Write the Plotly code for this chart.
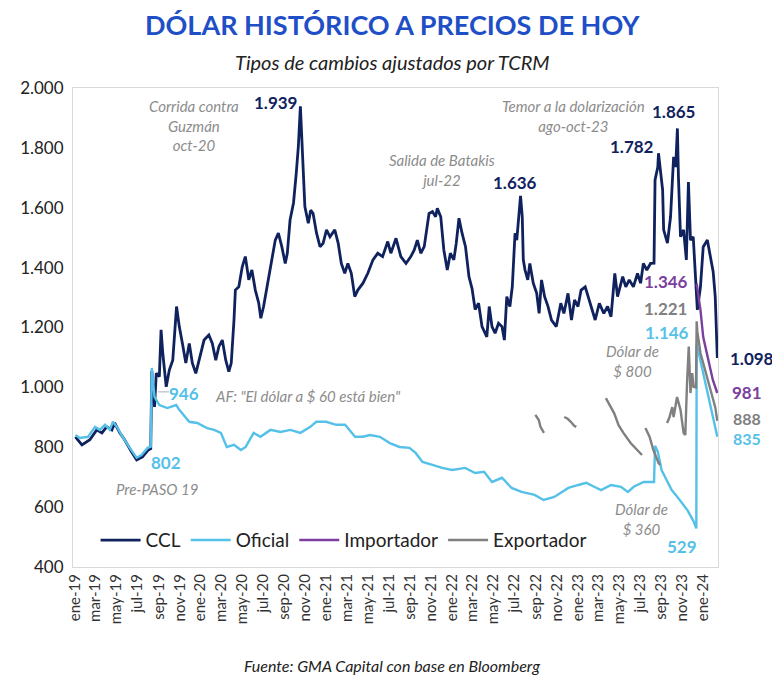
import plotly.graph_objects as go

# ---------------- DATA ----------------
ccl_dates = ["2019-01-02","2019-01-21","2019-02-13","2019-03-05","2019-03-20","2019-04-03","2019-04-18","2019-04-26",
"2019-05-11","2019-05-25","2019-06-14","2019-06-29","2019-07-16","2019-08-02","2019-08-09","2019-08-12",
"2019-08-20","2019-08-25","2019-09-03","2019-09-08","2019-09-13","2019-09-23","2019-10-02","2019-10-12","2019-10-23",
"2019-10-31","2019-11-09","2019-11-19","2019-11-29","2019-12-08","2019-12-18","2020-01-02","2020-01-11","2020-01-25",
"2020-02-04","2020-02-14","2020-02-23","2020-03-04","2020-03-14","2020-03-23","2020-03-30","2020-04-07","2020-04-11",
"2020-04-21","2020-05-01","2020-05-10","2020-05-20","2020-05-29","2020-06-08","2020-06-18","2020-06-24","2020-07-02",
"2020-07-12","2020-07-21","2020-08-05","2020-08-14","2020-08-24","2020-09-03","2020-09-09","2020-09-17","2020-09-27",
"2020-10-05","2020-10-11","2020-10-17","2020-10-26","2020-10-30","2020-11-09","2020-11-16","2020-11-23","2020-12-03",
"2020-12-13","2020-12-22","2021-01-01","2021-01-11","2021-01-25","2021-02-04","2021-02-13","2021-02-23","2021-03-04",
"2021-03-14","2021-03-24","2021-04-02","2021-04-17","2021-05-01","2021-05-16","2021-05-30","2021-06-13","2021-06-28",
"2021-07-07","2021-07-22","2021-08-05","2021-08-20","2021-09-03","2021-09-13","2021-09-22","2021-10-02","2021-10-12",
"2021-10-26","2021-11-05","2021-11-14","2021-11-19","2021-11-29","2021-12-08","2021-12-18","2021-12-27","2022-01-06",
"2022-01-13","2022-01-21","2022-01-30","2022-02-09","2022-02-19","2022-02-28","2022-03-09","2022-03-19","2022-03-29",
"2022-04-12","2022-04-19","2022-04-27","2022-05-06","2022-05-16","2022-05-26","2022-06-02","2022-06-09","2022-06-18",
"2022-06-25","2022-07-03","2022-07-08","2022-07-14","2022-07-19","2022-07-24","2022-07-27","2022-08-01","2022-08-09",
"2022-08-15","2022-08-25","2022-09-04","2022-09-11","2022-09-18","2022-09-27","2022-10-07","2022-10-17","2022-10-31",
"2022-11-13","2022-11-22","2022-12-04","2022-12-14","2022-12-23","2023-01-02","2023-01-11","2023-01-23","2023-02-04",
"2023-02-21","2023-03-05","2023-03-18","2023-03-29","2023-04-08","2023-04-19","2023-04-27","2023-05-12","2023-05-21",
"2023-05-31","2023-06-12","2023-06-24","2023-07-03","2023-07-11","2023-07-21","2023-08-01","2023-08-11","2023-08-14",
"2023-08-22","2023-08-24","2023-09-05","2023-09-08","2023-09-19","2023-09-28","2023-10-07","2023-10-13","2023-10-18",
"2023-10-21","2023-10-27","2023-11-05","2023-11-13","2023-11-19","2023-11-25","2023-12-03","2023-12-15","2023-12-24",
"2024-01-01","2024-01-13","2024-01-21","2024-01-30","2024-02-05","2024-02-11"]
ccl_values = [835,808,825,858,848,868,858,881,
848,825,785,758,768,791,795,1055,
935,1047,1036,1192,1114,1002,1058,1091,1270,
1203,1147,1081,1147,1081,1047,1114,1158,1175,
1147,1091,1136,1158,1091,1053,1081,1225,1325,
1336,1403,1437,1359,1392,1325,1281,1231,1270,
1336,1381,1492,1515,1470,1414,1448,1559,1616,
1716,1803,1939,1670,1604,1548,1592,1581,1515,
1470,1481,1526,1503,1526,1481,1414,1381,1414,
1381,1303,1325,1348,1381,1426,1448,1437,1487,
1448,1498,1437,1414,1437,1459,1492,1448,1470,
1581,1587,1570,1598,1570,1459,1392,1448,1426,
1481,1565,1515,1470,1370,1330,1260,1281,1203,
1169,1270,1203,1181,1214,1203,1158,1303,1270,
1336,1515,1492,1570,1640,1570,1426,1392,1359,
1414,1348,1314,1247,1359,1303,1270,1225,1203,
1281,1247,1314,1225,1292,1270,1325,1336,1292,
1225,1281,1247,1270,1236,1381,1303,1370,1336,
1359,1336,1381,1348,1414,1392,1414,1415,1693,
1736,1782,1660,1526,1482,1569,1770,1736,1865,
1703,1503,1526,1426,1686,1492,1503,1259,1336,
1469,1492,1436,1386,1302,1098]

oficial_dates = ["2019-01-02","2019-01-15","2019-02-08","2019-02-28","2019-03-14","2019-03-29","2019-04-12","2019-04-21",
"2019-05-05","2019-05-19","2019-06-09","2019-06-29","2019-07-13","2019-07-31","2019-08-09","2019-08-12","2019-08-20",
"2019-09-03","2019-09-26","2019-10-22","2019-10-31","2019-11-29","2019-12-22","2020-01-20","2020-02-09","2020-02-29",
"2020-03-17","2020-04-07","2020-04-27","2020-05-11","2020-06-03","2020-06-23","2020-07-22","2020-08-20","2020-09-18",
"2020-10-17","2020-11-15","2020-12-02","2020-12-31","2021-01-29","2021-02-24","2021-03-25","2021-04-17","2021-05-07",
"2021-06-05","2021-07-04","2021-08-01","2021-08-30","2021-09-17","2021-10-07","2021-11-05","2021-12-03","2022-01-01",
"2022-02-08","2022-03-09","2022-04-04","2022-04-27","2022-05-26","2022-06-23","2022-07-22","2022-08-29","2022-09-24",
"2022-10-25","2022-12-05","2023-01-03","2023-01-26","2023-02-18","2023-03-10","2023-04-08","2023-05-07","2023-05-27",
"2023-06-13","2023-07-12","2023-08-11","2023-08-14","2023-08-22","2023-09-02","2023-10-01","2023-10-18","2023-11-16",
"2023-12-03","2023-12-12","2023-12-13","2023-12-28","2024-01-11","2024-01-26","2024-02-11"]
oficial_values = [841,831,835,868,858,875,858,885,
864,835,798,765,774,798,802,1065,968,
941,931,941,925,885,881,864,858,848,
801,808,791,801,848,835,858,851,858,
848,868,885,885,875,875,835,835,841,
835,814,801,798,781,751,741,731,724,
731,714,718,684,698,664,651,641,624,
634,664,674,681,668,657,674,668,651,
668,684,684,805,785,724,658,634,590,
555,529,1146,1069,991,914,835]

importador_dates = ["2023-12-13","2023-12-24","2024-01-01","2024-01-15","2024-01-29","2024-02-11"]
importador_values = [1346,1259,1168,1092,1025,981]

exportador_dates = ["2022-08-31","2022-09-10","2022-09-15","2022-09-20","2022-09-25","2022-10-01",
"2022-11-23","2022-12-03","2022-12-12","2022-12-22","2022-12-28","2023-01-05",
"2023-03-24","2023-04-17","2023-04-30","2023-05-14","2023-06-04","2023-06-23","2023-07-07","2023-07-12",
"2023-07-17","2023-07-29","2023-08-09","2023-08-24","2023-08-29","2023-09-10",
"2023-09-18","2023-09-25","2023-10-03","2023-10-07","2023-10-17","2023-10-27","2023-11-05","2023-11-10",
"2023-11-15","2023-11-20","2023-11-25","2023-11-30","2023-12-04","2023-12-11","2023-12-13","2023-12-15",
"2023-12-24","2024-01-07","2024-01-21","2024-02-05","2024-02-11"]
exportador_values = [908,891,868,858,848,None,
901,895,885,872,868,None,
964,914,874,848,814,791,774,None,
864,835,791,748,741,None,
881,900,934,901,968,925,848,841,
1015,1136,981,1048,1002,1000,1221,1186,
1115,1058,1002,934,888]

tick_dates = ["2019-01-01","2019-03-01","2019-05-01","2019-07-01","2019-09-01","2019-11-01",
"2020-01-01","2020-03-01","2020-05-01","2020-07-01","2020-09-01","2020-11-01",
"2021-01-01","2021-03-01","2021-05-01","2021-07-01","2021-09-01","2021-11-01",
"2022-01-01","2022-03-01","2022-05-01","2022-07-01","2022-09-01","2022-11-01",
"2023-01-01","2023-03-01","2023-05-01","2023-07-01","2023-09-01","2023-11-01","2024-01-01"]
tick_labels = ["ene-19","mar-19","may-19","jul-19","sep-19","nov-19",
"ene-20","mar-20","may-20","jul-20","sep-20","nov-20",
"ene-21","mar-21","may-21","jul-21","sep-21","nov-21",
"ene-22","mar-22","may-22","jul-22","sep-22","nov-22",
"ene-23","mar-23","may-23","jul-23","sep-23","nov-23","ene-24"]
y_ticks = [400,600,800,1000,1200,1400,1600,1800,2000]

# ---------------- STYLE ----------------
NAVY = "#10225e"
LBLUE = "#55c1e8"
PURPLE = "#7b3f9e"
GRAY = "#808080"
NOTE = "#8c8c8c"
FONT = "Lato"

fig = go.Figure()
fig.add_trace(go.Scatter(x=ccl_dates, y=ccl_values, name="CCL", mode="lines",
                         line=dict(color=NAVY, width=2.8)))
fig.add_trace(go.Scatter(x=oficial_dates, y=oficial_values, name="Oficial", mode="lines",
                         line=dict(color=LBLUE, width=2.4)))
fig.add_trace(go.Scatter(x=importador_dates, y=importador_values, name="Importador", mode="lines",
                         line=dict(color=PURPLE, width=2.4)))
fig.add_trace(go.Scatter(x=exportador_dates, y=exportador_values, name="Exportador", mode="lines",
                         connectgaps=False, line=dict(color=GRAY, width=2.4)))

ann = []
def note(x, y, text, color=NOTE, size=15, bold=False, italic=True, xanchor="center", xref="x"):
    t = text
    if bold:
        t = "<b>" + t + "</b>"
    if italic:
        t = "<i>" + t + "</i>"
    ann.append(dict(x=x, y=y, xref=xref, yref="y", text=t, showarrow=False,
                    xanchor=xanchor, yanchor="middle",
                    font=dict(family=FONT, size=size, color=color)))

def val(x, y, text, color, xref="x", size=17):
    note(x, y, text, color=color, size=size, bold=True, italic=False, xref=xref)

note("2019-12-13", 1876, "Corrida contra<br>Guzmán<br>oct-20")
val("2020-08-06", 1950, "1.939", NAVY)
note("2021-12-03", 1726, "Salida de Batakis<br>jul-22")
val("2022-07-02", 1686, "1.636", NAVY)
note("2022-12-19", 1906, "Temor a la dolarización<br>ago-oct-23")
val("2023-10-06", 1922, "1.865", NAVY)
val("2023-06-07", 1806, "1.782", NAVY)
val("2023-09-14", 1355, "1.346", PURPLE)
val("2023-09-14", 1262, "1.221", GRAY)
val("2023-09-18", 1182, "1.146", LBLUE)
note("2023-06-10", 1087, "Dólar de<br>$ 800")
val(1.052, 1098, "1.098", NAVY, xref="paper")
val(1.045, 984, "981", PURPLE, xref="paper")
val(1.045, 896, "888", GRAY, xref="paper", size=16)
val(1.045, 829, "835", LBLUE, xref="paper", size=16)
note("2023-07-06", 560, "Dólar de<br>$ 360")
val("2023-10-31", 470, "529", LBLUE)
val("2019-11-14", 978, "946", LBLUE)
note("2020-02-07", 971, "AF: \"El dólar a $ 60 está bien\"", xanchor="left")
val("2019-09-23", 748, "802", LBLUE)
note("2019-08-28", 660, "Pre-PASO 19")

# titles / source (paper coordinates)
ann.append(dict(x=0.495, y=1.1335, xref="paper", yref="paper", showarrow=False,
                text="<b>DÓLAR HISTÓRICO A PRECIOS DE HOY</b>", xanchor="center", yanchor="middle",
                font=dict(family=FONT, size=27, color="#1f4fc6")))
ann.append(dict(x=0.495, y=1.0543, xref="paper", yref="paper", showarrow=False,
                text="<i>Tipos de cambios ajustados por TCRM</i>", xanchor="center", yanchor="middle",
                font=dict(family=FONT, size=20, color="#222222")))
ann.append(dict(x=0.495, y=-0.2046, xref="paper", yref="paper", showarrow=False,
                text="<i>Fuente: GMA Capital con base en Bloomberg</i>", xanchor="center", yanchor="middle",
                font=dict(family=FONT, size=16, color="#222222")))

fig.update_layout(
    width=764, height=667,
    margin=dict(l=60, r=54, t=80, b=108),
    paper_bgcolor="white", plot_bgcolor="white",
    separators=",.",
    font=dict(family=FONT, color="#222222"),
    annotations=ann,
    shapes=[dict(type="line", xref="x", yref="y", x0="2019-08-31", y0=985, x1="2019-10-01", y1=985,
                 line=dict(color="#b0b0b0", width=1))],
    showlegend=True,
    legend=dict(orientation="h", x=0.035, y=0.056, xanchor="left", yanchor="middle",
                bgcolor="rgba(0,0,0,0)", font=dict(family=FONT, size=19, color="#222222"),
                itemwidth=40, traceorder="normal"),
    xaxis=dict(type="date", range=["2018-12-26", "2024-02-13"],
               tickmode="array", tickvals=tick_dates, ticktext=tick_labels, tickangle=-90,
               tickfont=dict(family=FONT, size=15, color="#333333"),
               showgrid=False, zeroline=False, showline=True, mirror=True,
               linecolor="#d9d9d9", linewidth=1, ticks=""),
    yaxis=dict(range=[400, 2000], tickmode="array", tickvals=y_ticks, tickformat=",d",
               tickfont=dict(family=FONT, size=17, color="#222222"),
               ticklabelstandoff=5,
               showgrid=False, zeroline=False, showline=True, mirror=True,
               linecolor="#d9d9d9", linewidth=1, ticks=""),
)

fig.write_html("out.html")
